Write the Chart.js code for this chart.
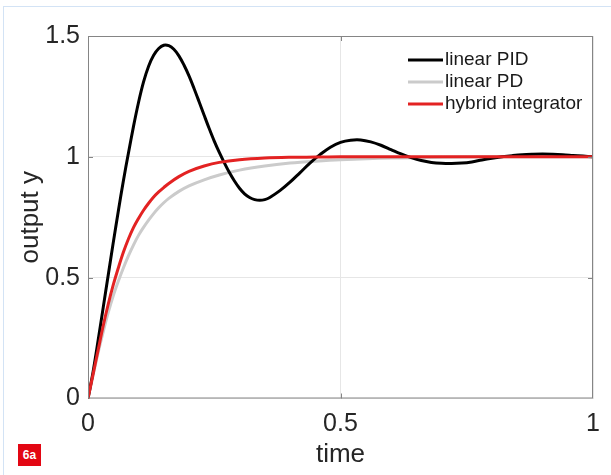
<!DOCTYPE html>
<html>
<head>
<meta charset="utf-8">
<script src="https://cdn.jsdelivr.net/npm/chart.js@4.4.1/dist/chart.umd.min.js"></script>
<style>
  html, body { margin: 0; padding: 0; background: #fff; }
  #wrap { position: absolute; left: 0; top: 0; width: 611px; height: 475px; }
  #frame { position: absolute; left: 3px; top: 6px; width: 700px; height: 600px;
           border-left: 1px solid #d3e3f5; border-top: 1px solid #d3e3f5; }
  #badge { position: absolute; left: 18px; top: 444px; width: 23px; height: 22px;
           background: #e30613; color: #fff; font: bold 12px 'Liberation Sans', Arial, sans-serif;
           line-height: 22px; text-align: center; }
</style>
</head>
<body>
<div id="wrap">
  <div id="frame"></div>
  <canvas id="chart" width="611" height="475"></canvas>
  <div id="badge">6a</div>
</div>
<script>
// tick labels
const xTicks = [0, 0.5, 1];
const yTicks = [0, 0.5, 1, 1.5];

// linear PID
const timePID = [0, 0.01, 0.02, 0.03, 0.04, 0.05, 0.06, 0.07, 0.08, 0.09, 0.10, 0.11, 0.12, 0.13, 0.14,
  0.15, 0.16, 0.17, 0.18, 0.19, 0.20, 0.21, 0.22, 0.23, 0.24, 0.25, 0.26, 0.27, 0.28, 0.29, 0.30,
  0.31, 0.32, 0.33, 0.34, 0.35, 0.36, 0.38, 0.40, 0.42, 0.44, 0.46, 0.48, 0.50, 0.52, 0.54, 0.56,
  0.58, 0.60, 0.62, 0.64, 0.66, 0.68, 0.70, 0.72, 0.74, 0.76, 0.78, 0.80, 0.82, 0.84, 0.86, 0.88,
  0.90, 0.92, 0.94, 0.96, 0.98, 1.00];
const outputPID = [0, 0.11, 0.24, 0.375, 0.51, 0.645, 0.775, 0.9, 1.015, 1.125, 1.225, 1.31, 1.375, 1.42, 1.448,
  1.462, 1.46, 1.445, 1.418, 1.38, 1.335, 1.283, 1.228, 1.172, 1.117, 1.065, 1.018, 0.975, 0.935, 0.9, 0.87,
  0.847, 0.832, 0.823, 0.82, 0.823, 0.832, 0.86, 0.895, 0.935, 0.975, 1.01, 1.04, 1.06, 1.069, 1.07, 1.062,
  1.048, 1.03, 1.012, 0.997, 0.985, 0.977, 0.973, 0.972, 0.974, 0.979, 0.987, 0.994, 1.0, 1.005, 1.009, 1.011,
  1.012, 1.011, 1.009, 1.006, 1.003, 1.0];

// linear PD
const timePD = [0, 0.01, 0.02, 0.03, 0.04, 0.05, 0.06, 0.07, 0.08, 0.09, 0.10, 0.11, 0.12, 0.13, 0.14,
  0.15, 0.16, 0.18, 0.20, 0.23, 0.26, 0.30, 0.35, 0.40, 0.45, 0.50, 0.60, 0.70, 0.80, 1.00];
const outputPD = [0, 0.095, 0.19, 0.275, 0.355, 0.425, 0.485, 0.54, 0.59, 0.635, 0.675, 0.708, 0.738, 0.765, 0.789,
  0.81, 0.828, 0.857, 0.88, 0.905, 0.925, 0.945, 0.962, 0.974, 0.982, 0.988, 0.995, 0.998, 1.0, 1.0];

// hybrid integrator
const timeHI = [0, 0.01, 0.02, 0.03, 0.04, 0.05, 0.06, 0.07, 0.08, 0.09, 0.10, 0.11, 0.12, 0.13, 0.14,
  0.15, 0.16, 0.18, 0.20, 0.23, 0.26, 0.30, 0.35, 0.40, 0.45, 0.50, 0.60, 0.80, 1.00];
const outputHI = [0, 0.10, 0.20, 0.30, 0.39, 0.47, 0.54, 0.605, 0.66, 0.707, 0.745, 0.779, 0.808, 0.834, 0.855,
  0.873, 0.89, 0.918, 0.94, 0.962, 0.977, 0.988, 0.995, 0.998, 0.999, 1.0, 1.0, 1.0, 1.0];

const seriesNames = ['linear PID', 'linear PD', 'hybrid integrator'];

function toPoints(ts, ys) {
  return ts.map((t, i) => ({ x: t, y: ys[i] }));
}

Chart.defaults.font.family = "'Liberation Sans', Arial, sans-serif";
Chart.defaults.color = '#262626';

// box around the plot with inward ticks, like matlab
const framePlugin = {
  id: 'frame',
  afterDraw(chart) {
    const { ctx, chartArea: a, scales } = chart;
    ctx.save();
    ctx.strokeStyle = '#858585';
    ctx.lineWidth = 1;
    ctx.strokeRect(a.left + 0.5, a.top + 0.5, a.right - a.left - 1, a.bottom - a.top - 1);
    ctx.beginPath();
    xTicks.slice(1, -1).forEach(v => {
      const px = Math.round(scales.x.getPixelForValue(v)) + 0.5;
      ctx.moveTo(px, a.bottom); ctx.lineTo(px, a.bottom - 5);
      ctx.moveTo(px, a.top); ctx.lineTo(px, a.top + 5);
    });
    yTicks.slice(1, -1).forEach(v => {
      const py = Math.round(scales.y.getPixelForValue(v)) + 0.5;
      ctx.moveTo(a.left, py); ctx.lineTo(a.left + 5, py);
      ctx.moveTo(a.right, py); ctx.lineTo(a.right - 5, py);
    });
    ctx.stroke();

    // legend inside the plot, top right
    ctx.font = "19px 'Liberation Sans', Arial, sans-serif";
    ctx.textBaseline = 'middle';
    ctx.textAlign = 'left';
    chart.data.datasets.forEach((ds, i) => {
      const y = 60 + i * 22;
      ctx.strokeStyle = ds.borderColor;
      ctx.lineWidth = 3;
      ctx.beginPath();
      ctx.moveTo(408, y); ctx.lineTo(443, y);
      ctx.stroke();
      ctx.fillStyle = '#1a1a1a';
      ctx.fillText(ds.label, 445, y);
    });
    ctx.restore();
  }
};

new Chart(document.getElementById('chart'), {
  type: 'line',
  data: {
    datasets: [
      { label: seriesNames[0], data: toPoints(timePID, outputPID), borderColor: '#000000', order: 1 },
      { label: seriesNames[1], data: toPoints(timePD, outputPD), borderColor: '#cbcbcb', order: 2 },
      { label: seriesNames[2], data: toPoints(timeHI, outputHI), borderColor: '#e32222', order: 0 }
    ]
  },
  options: {
    responsive: false,
    animation: false,
    parsing: false,
    elements: {
      point: { radius: 0 },
      line: { borderWidth: 3, tension: 0.35, fill: false, borderJoinStyle: 'round', borderCapStyle: 'round' }
    },
    layout: { padding: { left: 0, top: 36, right: 18, bottom: 0 } },
    plugins: { legend: { display: false }, tooltip: { enabled: false } },
    scales: {
      x: {
        type: 'linear', min: 0, max: 1,
        afterBuildTicks: s => { s.ticks = xTicks.map(v => ({ value: v })); },
        afterFit: s => { s.height = 76.5; },
        ticks: { font: { size: 25 }, padding: 11, maxRotation: 0, callback: v => String(v) },
        grid: { color: '#e6e6e6', drawTicks: false },
        border: { display: false },
        title: { display: true, text: 'time', font: { size: 26 }, padding: { top: 0, bottom: 5 } }
      },
      y: {
        type: 'linear', min: 0, max: 1.5,
        afterBuildTicks: s => { s.ticks = yTicks.map(v => ({ value: v })); },
        afterFit: s => { s.width = 88; },
        ticks: { font: { size: 25 }, padding: 8, callback: v => String(v) },
        grid: { color: '#e6e6e6', drawTicks: false },
        border: { display: false },
        title: { display: true, text: 'output y', font: { size: 26 }, padding: { top: 15, bottom: 0 } }
      }
    }
  },
  plugins: [framePlugin]
});
</script>
</body>
</html>
